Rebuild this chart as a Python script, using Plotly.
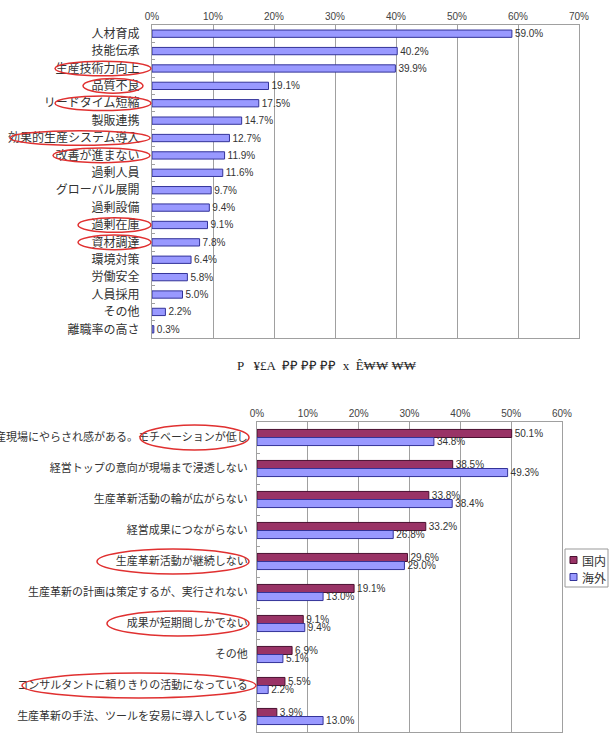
import plotly.graph_objects as go

W, H = 611, 741

# ---- data ----
top_categories = ["人材育成", "技能伝承", "生産技術力向上", "品質不良", "リードタイム短縮", "製販連携",
                  "効果的生産システム導入", "改善が進まない", "過剰人員", "グローバル展開", "過剰設備",
                  "過剰在庫", "資材調達", "環境対策", "労働安全", "人員採用", "その他", "離職率の高さ"]
top_values = [59.0, 40.2, 39.9, 19.1, 17.5, 14.7, 12.7, 11.9, 11.6, 9.7, 9.4, 9.1, 7.8, 6.4, 5.8, 5.0, 2.2, 0.3]

bottom_categories = ["生産現場にやらされ感がある。モチベーションが低し", "経営トップの意向が現場まで浸透しない",
                     "生産革新活動の輪が広がらない", "経営成果につながらない", "生産革新活動が継続しない",
                     "生産革新の計画は策定するが、実行されない", "成果が短期間しかでない", "その他",
                     "コンサルタントに頼りきりの活動になっている", "生産革新の手法、ツールを安易に導入している"]
domestic = [50.1, 38.5, 33.8, 33.2, 29.6, 19.1, 9.1, 6.9, 5.5, 3.9]
overseas = [34.8, 49.3, 38.4, 26.8, 29.0, 13.0, 9.4, 5.1, 2.2, 13.0]
series_names = ["国内", "海外"]

top_ticks = [0, 10, 20, 30, 40, 50, 60, 70]
bottom_ticks = [0, 10, 20, 30, 40, 50, 60]

garbled_caption = "P   ¥£A  ₽₽ ₽₽ ₽₽  x  Ȇ₩₩ ₩₩"

# highlighted labels (category, left pixel, right pixel of ellipse)
top_highlights = [("生産技術力向上", 55, 151), ("品質不良", 83, 143), ("リードタイム短縮", 55, 151),
                  ("効果的生産システム導入", 10, 150), ("改善が進まない", 53, 150),
                  ("過剰在庫", 78, 151), ("資材調達", 78, 151)]
bottom_highlights = [("生産現場にやらされ感がある。モチベーションが低し", 140, 249),
                     ("生産革新活動が継続しない", 97, 249), ("成果が短期間しかでない", 107, 249),
                     ("コンサルタントに頼りきりの活動になっている", 22, 256)]

JP = "Noto Sans CJK JP"
NUM = "Liberation Sans"
TXT = "#333333"
GRID = "#a0a0a0"

fig = go.Figure()

fig.add_trace(go.Bar(
    y=top_categories, x=top_values, orientation="h",
    marker=dict(color="#9999ff", line=dict(color="#333399", width=1)),
    width=0.42,
    text=[f"{v:.1f}%" for v in top_values], textposition="outside",
    textfont=dict(family=NUM, size=10, color=TXT), constraintext="none",
    cliponaxis=False, showlegend=False, xaxis="x", yaxis="y"))

colors = ["#993366", "#9999ff"]
lines = ["#4a1030", "#333399"]
for name, vals, c, lc in zip(series_names, [domestic, overseas], colors, lines):
    fig.add_trace(go.Bar(
        y=bottom_categories, x=vals, orientation="h", name=name,
        marker=dict(color=c, line=dict(color=lc, width=1)),
        text=[f"{v:.1f}%" for v in vals], textposition="outside",
        textfont=dict(family=NUM, size=10, color=TXT), constraintext="none",
        cliponaxis=False, showlegend=False, xaxis="x2", yaxis="y2"))

px = lambda v: v / W
py = lambda v: 1 - v / H

fig.update_layout(
    width=W, height=H, margin=dict(l=0, r=0, t=0, b=0, autoexpand=False),
    paper_bgcolor="white", plot_bgcolor="white",
    barmode="group", bargap=0.48, bargroupgap=0.0,
    showlegend=False,
    xaxis=dict(domain=[px(152), px(579)], anchor="y", side="top", range=[0, 70],
               tickvals=top_ticks, ticktext=[f"{t}%" for t in top_ticks],
               showgrid=True, gridcolor=GRID, gridwidth=1, zeroline=False,
               showline=True, linecolor=GRID, mirror=True, ticks="", automargin=False,
               tickfont=dict(family=NUM, size=10, color="#444")),
    yaxis=dict(domain=[py(338), py(25)], anchor="x", autorange="reversed",
               type="category", showline=True, linecolor=GRID, mirror=True,
               ticks="inside", ticklen=3, tickcolor=GRID, tickson="boundaries",
               ticklabelstandoff=9, automargin=False,
               tickfont=dict(family=JP, size=12, color=TXT)),
    xaxis2=dict(domain=[px(257), px(562)], anchor="y2", side="top", range=[0, 60],
                tickvals=bottom_ticks, ticktext=[f"{t}%" for t in bottom_ticks],
                showgrid=True, gridcolor=GRID, gridwidth=1, zeroline=False,
                showline=True, linecolor=GRID, mirror=True, ticks="", automargin=False,
                tickfont=dict(family=NUM, size=10, color="#444")),
    yaxis2=dict(domain=[py(732), py(422)], anchor="x2", autorange="reversed",
                type="category", showline=True, linecolor=GRID, mirror=True,
                ticks="inside", ticklen=3, tickcolor=GRID, tickson="boundaries",
                ticklabelstandoff=6, automargin=False,
                tickfont=dict(family=JP, size=11, color=TXT)),
)

shapes = []
for cat, left, right in top_highlights:
    i = top_categories.index(cat)
    shapes.append(dict(type="circle", xref="paper", yref="y", x0=px(left), x1=px(right),
                       y0=i - 0.42, y1=i + 0.42, line=dict(color="#e03030", width=1.5)))
for cat, left, right in bottom_highlights:
    i = bottom_categories.index(cat)
    shapes.append(dict(type="circle", xref="paper", yref="y2", x0=px(left), x1=px(right),
                       y0=i - 0.4, y1=i + 0.4, line=dict(color="#e03030", width=1.5)))

# custom compact legend
shapes.append(dict(type="rect", xref="paper", yref="paper", x0=px(565), x1=px(608),
                   y0=py(587), y1=py(549), line=dict(color="#999", width=1), fillcolor="white"))
for k, (name, c, lc) in enumerate(zip(series_names, colors, lines)):
    yc = 560 + 17 * k
    shapes.append(dict(type="rect", xref="paper", yref="paper", x0=px(570), x1=px(577),
                       y0=py(yc + 3.5), y1=py(yc - 3.5), fillcolor=c, line=dict(color=lc, width=1)))
    fig.add_annotation(x=px(580), y=py(yc), xref="paper", yref="paper", text=name,
                       xanchor="left", yanchor="middle", showarrow=False,
                       font=dict(family=JP, size=12, color=TXT))
fig.update_layout(shapes=shapes)

fig.add_annotation(x=px(327), y=py(365), xref="paper", yref="paper", text=garbled_caption,
                   showarrow=False, font=dict(family="Liberation Serif", size=13, color="#222"))

fig.write_html("out.html")
